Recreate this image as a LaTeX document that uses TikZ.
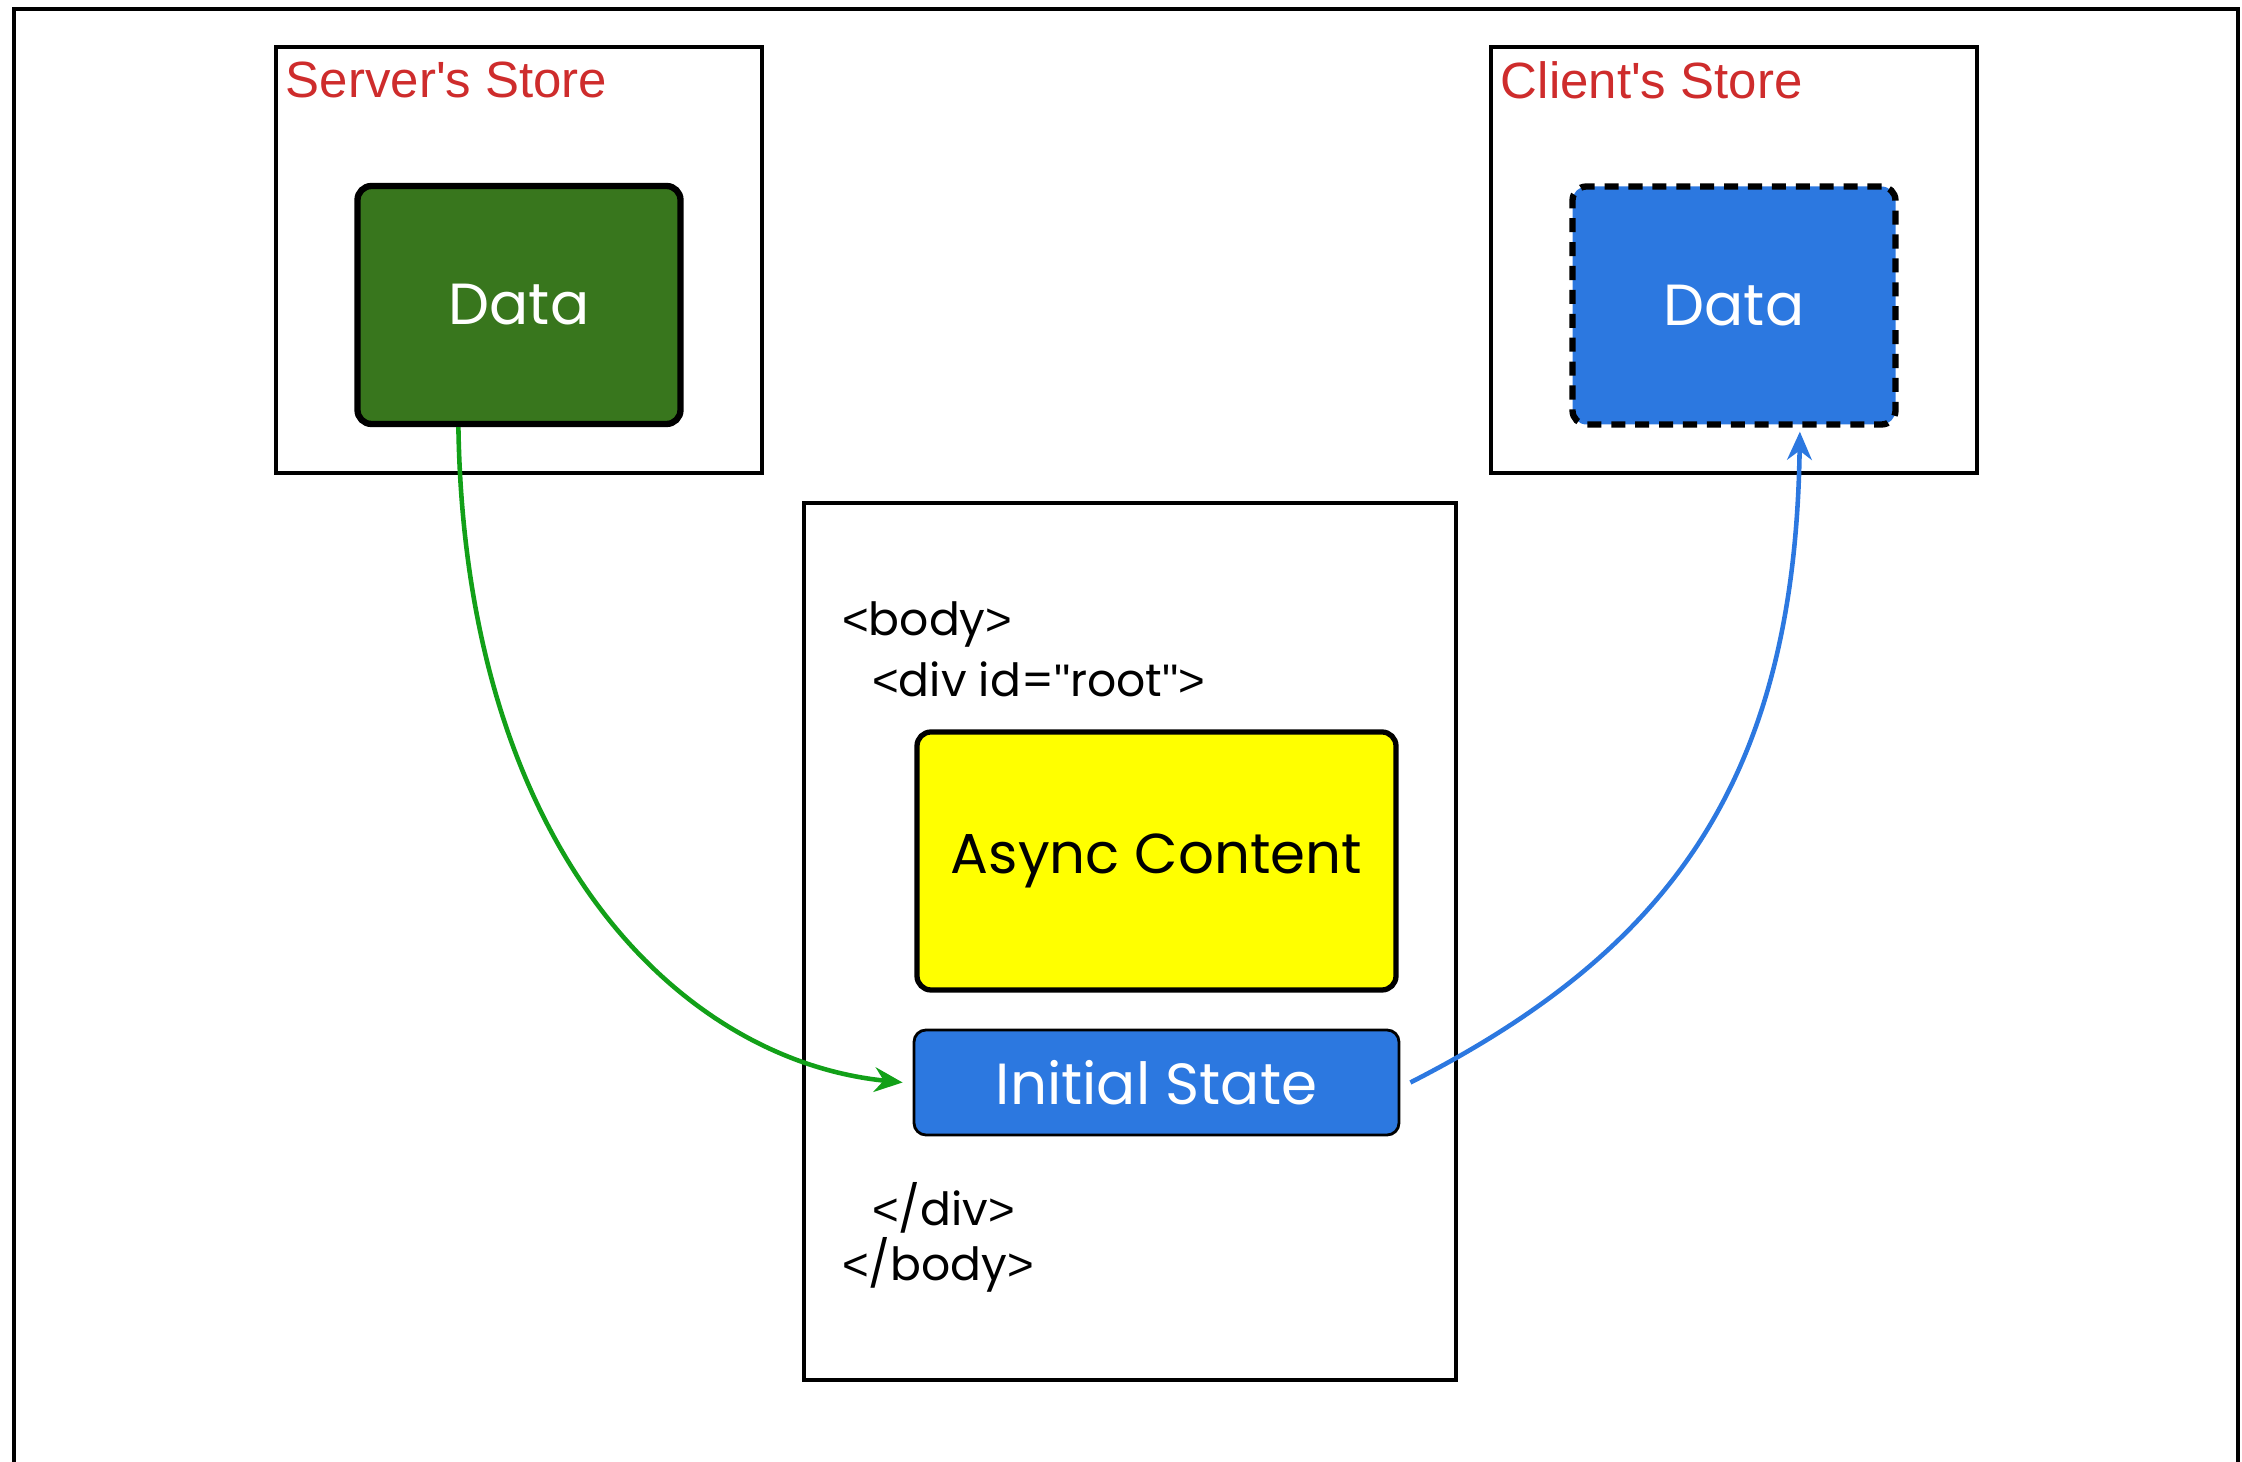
\documentclass[tikz,border=0pt]{standalone}
\usepackage{fontspec}
\setmainfont{Poppins}
\newfontfamily\labelfont{Liberation Sans}
\usepackage{xcolor}
\definecolor{storered}{RGB}{206,44,44}
\definecolor{datagreen}{RGB}{56,118,29}
\definecolor{arrowgreen}{RGB}{18,160,24}
\definecolor{stateblue}{RGB}{44,120,224}
\definecolor{asyncyellow}{RGB}{255,255,0}
\usetikzlibrary{arrows.meta, positioning, calc}
\newcommand{\lbr}{{\labelfont<}}
\newcommand{\rbr}{{\labelfont>}}
\newcommand{\dq}{{\labelfont\symbol{34}}}

\begin{document}
\begin{tikzpicture}[
  store/.style      = {rectangle, draw=black, line width=1pt, minimum width=4.86cm,
                       minimum height=4.26cm, inner sep=0pt},
  storelabel/.style = {anchor=north west, inner sep=0pt, text=storered,
                       font=\labelfont\fontsize{14.5}{17}\selectfont},
  datanode/.style   = {rectangle, rounded corners=0.14cm, minimum width=3.23cm,
                       minimum height=2.38cm, text=white, line width=1.8pt,
                       font=\fontsize{16.5}{19}\selectfont},
  pagebox/.style    = {rectangle, draw=black, line width=1.4pt, minimum width=6.52cm,
                       minimum height=8.77cm, inner sep=0pt},
  tag/.style        = {anchor=west, inner sep=0pt, font=\fontsize{13}{16}\selectfont},
  asyncbox/.style   = {rectangle, rounded corners=0.14cm, draw=black, line width=1.5pt,
                       fill=asyncyellow, minimum width=4.79cm, minimum height=2.58cm,
                       font=\fontsize{16}{19}\selectfont},
  statebox/.style   = {rectangle, rounded corners=0.12cm, draw=black, line width=0.8pt,
                       fill=stateblue, text=white, minimum width=4.85cm,
                       minimum height=1.05cm, font=\fontsize{16.5}{19}\selectfont},
  flow/.style       = {-{Stealth[length=8pt, width=7pt]}, line width=1.3pt},
]
\useasboundingbox (0,0) rectangle (22.42,-14.62);
\draw[line width=0.9pt] (0.14,-15) -- (0.14,-0.09) -- (22.38,-0.09) -- (22.38,-15);

\node[store] (sstore) at (5.19,-2.60) {};
\node[storelabel] (slabel) at ($(sstore.north west)+(0.11,-0.16)$) {Server's Store};
\node[datanode, draw=black, fill=datagreen] (sdata) at (5.19,-3.05) {Data};

\node[store] (cstore) at (17.34,-2.60) {};
\node[storelabel] (clabel) at ($(cstore.north west)+(0.11,-0.16)$) {Client's Store};
\node[datanode, fill=stateblue, draw=black, dash pattern=on 4pt off 2.8pt] (cdata) at (17.34,-3.055) {Data};

\node[pagebox] (page) at (11.30,-9.415) {};
\node[tag] (bodyopen) at ($(page.north west)+(0.40,-1.24)$) {\lbr body\rbr};
\node[tag] (divopen) at ($(page.north west)+(0.70,-1.79)$) {\lbr div id=\dq root\dq\rbr};
\node[asyncbox] (async) at (11.565,-8.61) {Async Content};
\node[statebox] (init) at (11.565,-10.825) {Initial State};
\node[tag] (divclose) at ($(page.north west)+(0.70,-7.07)$) {\lbr/div\rbr};
\node[tag] (bodyclose) at ($(page.north west)+(0.40,-7.64)$) {\lbr/body\rbr};

\draw[flow, arrowgreen] ($(sdata.south west)!0.316!(sdata.south east)$)
  .. controls (4.65,-8.5) and (6.8,-10.6) .. ([xshift=-0.1cm]init.west);
\draw[flow, stateblue] ([xshift=0.1cm]init.east)
  .. controls (16.7,-9.5) and (17.95,-7.8) .. ($(cdata.south west)!0.70!(cdata.south east)+(0,-0.04)$);
\end{tikzpicture}
\end{document}
